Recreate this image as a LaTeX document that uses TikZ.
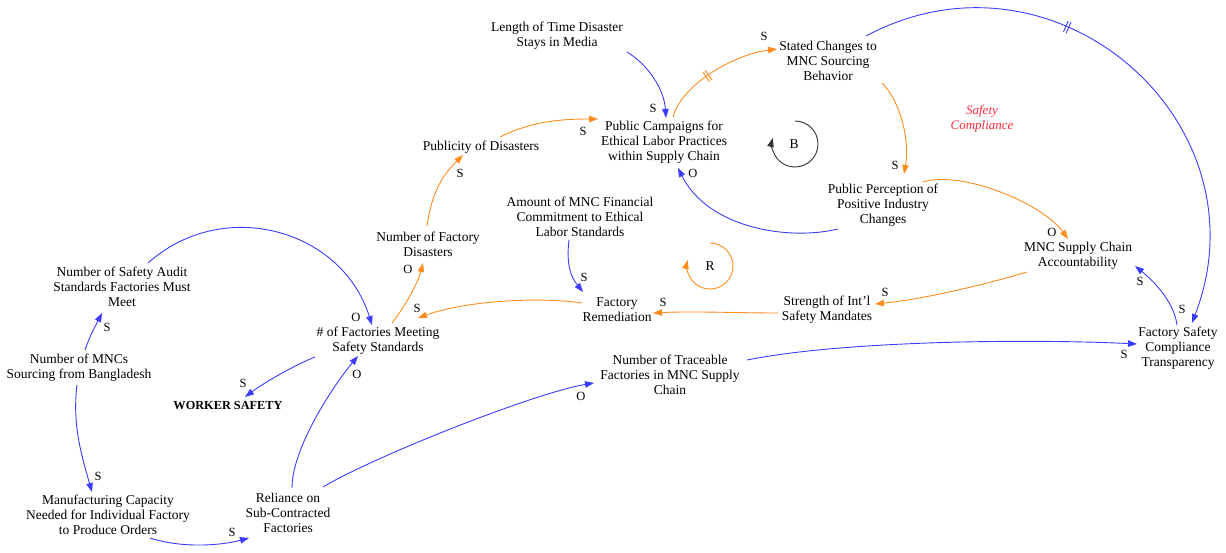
\documentclass[tikz,border=0pt]{standalone}
\usepackage{fontspec}
\setmainfont{Liberation Serif}
\usetikzlibrary{arrows.meta,calc,decorations.markings}
\definecolor{vblue}{RGB}{60,60,255}
\definecolor{vorange}{RGB}{255,140,30}
\definecolor{vred}{RGB}{255,40,60}
\begin{document}
\begin{tikzpicture}[x=1pt,y=-1pt,
  var/.style={align=center,inner sep=1pt,font=\fontsize{13.5}{15}\selectfont},
  pol/.style={inner sep=0pt,font=\fontsize{12.5}{13}\selectfont},
  link/.style={line width=0.9pt,-{Triangle[length=9pt,width=6.5pt]}},
  bl/.style={link,vblue},
  orng/.style={link,vorange},
  delaymark/.style={postaction={decorate,decoration={markings,
    mark=at position #1 with {\draw[-,line width=0.9pt] (-1.5pt,-6pt) -- (-1.5pt,6pt) (1.5pt,-6pt) -- (1.5pt,6pt);}}}}]
\useasboundingbox (0,0) rectangle (1226,553);
\node[var] (len) at (557,36) {Length of Time Disaster\\Stays in Media};
\node[var] (camp) at (664,142) {Public Campaigns for\\Ethical Labor Practices\\within Supply Chain};
\node[var] (pub) at (481,147) {Publicity of Disasters};
\node[var] (fdis) at (428,244) {Number of Factory\\Disasters};
\node[var] (amt) at (580,217) {Amount of MNC Financial\\Commitment to Ethical\\Labor Standards};
\node[var] (stated) at (828,61) {Stated Changes to\\MNC Sourcing\\Behavior};
\node[var] (perc) at (883,205) {Public Perception of\\Positive Industry\\Changes};
\node[var] (acc) at (1078,256) {MNC Supply Chain\\Accountability};
\node[var] (mand) at (827,310) {Strength of Int'l\\Safety Mandates};
\node[var] (remed) at (617,310) {Factory\\Remediation};
\node[var] (meet) at (378,341) {\# of Factories Meeting\\Safety Standards};
\node[var,font=\fontsize{12.3}{14}\selectfont\bfseries] (worker) at (228,406) {WORKER SAFETY};
\node[var] (audit) at (122,287) {Number of Safety Audit\\Standards Factories Must\\Meet};
\node[var] (mncs) at (79,368) {Number of MNCs\\Sourcing from Bangladesh};
\node[var] (cap) at (108,515) {Manufacturing Capacity\\Needed for Individual Factory\\to Produce Orders};
\node[var] (rel) at (288,513) {Reliance on\\Sub-Contracted\\Factories};
\node[var] (trace) at (670,375) {Number of Traceable\\Factories in MNC Supply\\Chain};
\node[var] (trans) at (1178,348) {Factory Safety\\Compliance\\Transparency};
\node[var,text=vred,font=\fontsize{13}{15}\selectfont\itshape] (safety) at (982,119) {Safety\\Compliance};
\node[var] (bl1) at (794,144) {B};
\node[var] (rl1) at (710,266) {R};
\draw[link,black!80] ($(bl1)+(1,-23)$) arc[start angle=-90,end angle=195,radius=23];
\draw[link,vorange] ($(rl1)+(0,-23)$) arc[start angle=-90,end angle=195,radius=23];
\draw[bl] ($(len)+(70,16)$) .. controls +(20,12) and +(-2,-30) .. ($(camp)+(2,-24)$);
\draw[orng] ($(pub)+(19,-10)$) .. controls +(30,-15) and +(-40,0) .. ($(camp)+(-66,-23)$);
\draw[orng] ($(fdis)+(-1,-18)$) .. controls +(5,-35) and +(-20,20) .. ($(pub)+(-18,8)$);
\draw[orng] ($(meet)+(14,-18)$) .. controls +(12,-15) and +(-5,20) .. ($(fdis)+(-5,19)$);
\draw[orng,delaymark=0.42] ($(camp)+(9,-25)$) .. controls +(10,-35) and +(-40,5) .. ($(stated)+(-51,-12)$);
\draw[orng] ($(stated)+(54,22)$) .. controls +(18,18) and +(6,-35) .. ($(perc)+(21,-31)$);
\draw[bl] ($(perc)+(-45,24)$) .. controls +(-50,12) and +(30,60) .. ($(camp)+(14,26)$);
\draw[orng] ($(perc)+(40,-23)$) .. controls +(40,-12) and +(-25,-35) .. ($(acc)+(-10,-17)$);
\draw[bl,delaymark=0.37] ($(stated)+(38,-25)$) .. controls +(189,-101) and +(77,-201) .. ($(trans)+(14,-25)$);
\draw[orng] ($(acc)+(-51,16)$) .. controls +(-40,12) and +(50,-5) .. ($(mand)+(48,-6)$);
\draw[orng] ($(mand)+(-49,3)$) .. controls +(-40,0) and +(40,-2) .. ($(remed)+(36,3)$);
\draw[orng] ($(remed)+(-35,-7)$) .. controls +(-40,-6) and +(50,-18) .. ($(meet)+(40,-23)$);
\draw[bl] ($(amt)+(-11,23)$) .. controls +(-3,25) and +(-12,-15) .. ($(remed)+(-34,-18)$);
\draw[bl] ($(trans)+(-1,-23)$) .. controls +(-3,-25) and +(15,12) .. ($(acc)+(57,10)$);
\draw[bl] ($(trace)+(77,-15)$) .. controls +(100,-20) and +(-100,-5) .. ($(trans)+(-41,-4)$);
\draw[bl] ($(rel)+(35,-26)$) .. controls +(50,-30) and +(-60,10) .. ($(trace)+(-76,8)$);
\draw[bl] ($(rel)+(4,-25)$) .. controls +(0,-40) and +(-25,30) .. ($(meet)+(-20,15)$);
\draw[bl] ($(meet)+(-63,16)$) .. controls +(-20,8) and +(20,-15) .. ($(worker)+(17,-9)$);
\draw[bl] ($(audit)+(26,-24)$) .. controls +(75,-67) and +(-30,-96) .. ($(meet)+(-6,-16)$);
\draw[bl] ($(mncs)+(6,-18)$) .. controls +(5,-15) and +(-6,12) .. ($(audit)+(-20,26)$);
\draw[bl] ($(mncs)+(-2,17)$) .. controls +(-5,40) and +(-10,-35) .. ($(cap)+(-16,-23)$);
\draw[bl] ($(cap)+(42,23)$) .. controls +(30,10) and +(-30,8) .. ($(rel)+(-39,25)$);
\node[pol] (p1) at (653,108) {S};
\node[pol] (p2) at (583,131) {S};
\node[pol] (p3) at (460,173) {S};
\node[pol] (p4) at (408,269) {O};
\node[pol] (p5) at (764,36) {S};
\node[pol] (p6) at (895,165) {S};
\node[pol] (p7) at (693,173) {O};
\node[pol] (p8) at (1052,232) {O};
\node[pol] (p9) at (1182,309) {S};
\node[pol] (p10) at (885,292) {S};
\node[pol] (p11) at (663,302) {S};
\node[pol] (p12) at (417,308) {S};
\node[pol] (p13) at (584,277) {S};
\node[pol] (p14) at (1140,281) {S};
\node[pol] (p15) at (1124,354) {S};
\node[pol] (p16) at (581,396) {O};
\node[pol] (p17) at (357,374) {O};
\node[pol] (p18) at (243,383) {S};
\node[pol] (p19) at (356,317) {O};
\node[pol] (p20) at (107,327) {S};
\node[pol] (p21) at (98,476) {S};
\node[pol] (p22) at (232,532) {S};
\end{tikzpicture}
\end{document}
